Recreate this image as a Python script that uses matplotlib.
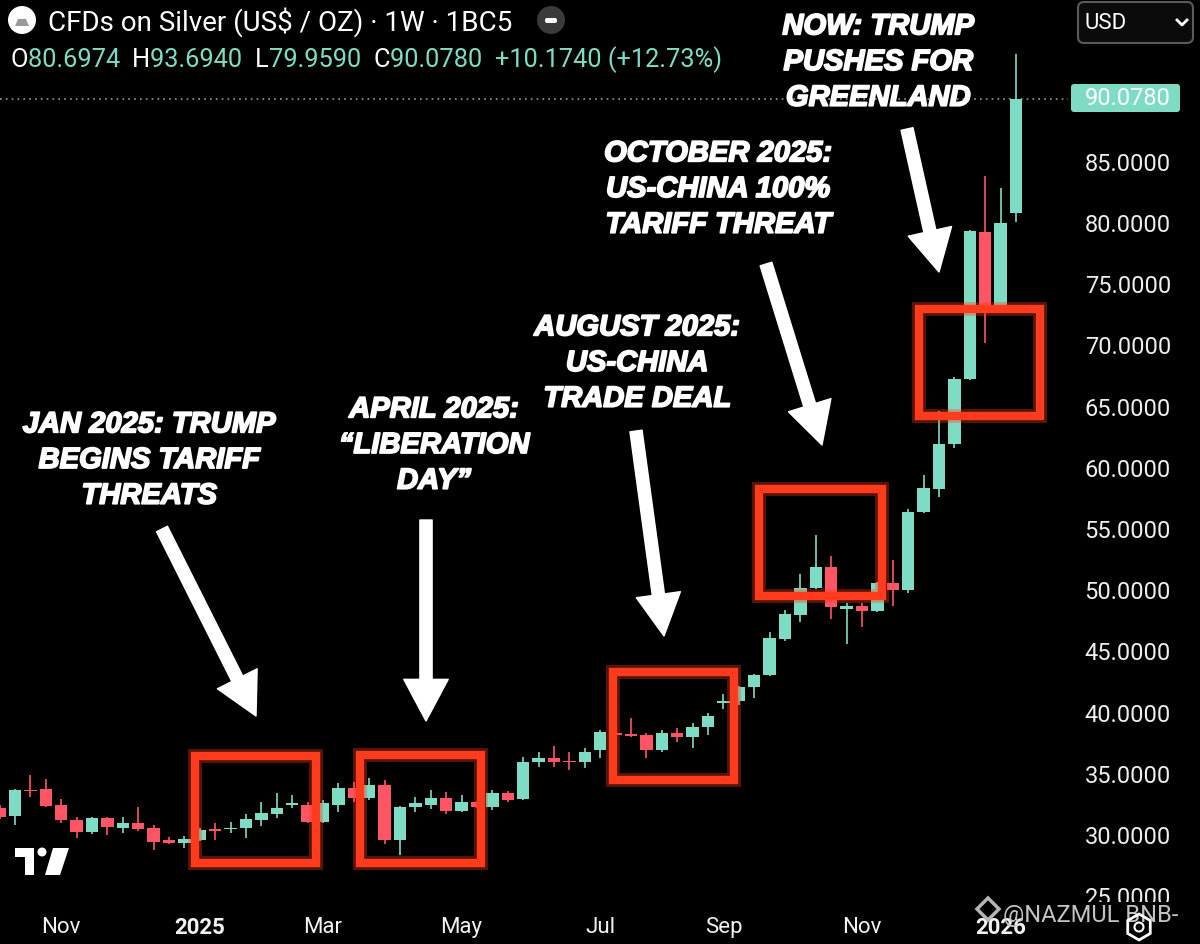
import matplotlib
matplotlib.use("Agg")
import matplotlib.pyplot as plt
import matplotlib.dates as mdates
from matplotlib import patches, patheffects
from matplotlib.lines import Line2D
import pandas as pd

# weekly candles, CFDs on silver (US$ / oz)
dates = pd.date_range("2024-10-07", "2026-01-12", freq="W-MON")
opens = [32.11, 31.46, 33.59, 33.67, 32.36, 31.13, 30.15, 31.30, 30.48, 30.89,
         30.48, 29.50, 29.25, 29.50, 30.31, 30.40, 30.48, 31.13, 31.62, 32.36,
         32.36, 30.97, 32.36, 33.75, 32.93, 34.00, 29.50, 32.20, 32.36, 32.93,
         31.87, 32.60, 32.20, 33.34, 32.85, 35.87, 36.20, 35.95, 35.87, 36.86,
         38.20, 38.16, 38.08, 36.86, 38.25, 37.90, 38.74, 40.70, 40.86, 42.00,
         43.00, 45.93, 47.89, 50.10, 51.82, 48.40, 48.63, 48.22, 50.51, 49.94,
         56.32, 58.20, 61.88, 67.19, 79.21, 73.24, 80.6974]
highs = [32.40, 33.65, 34.81, 34.48, 32.85, 31.38, 31.40, 31.38, 31.38, 32.20,
         30.72, 29.74, 29.82, 30.48, 30.89, 30.97, 31.62, 32.60, 33.34, 33.18,
         32.60, 32.77, 34.16, 34.24, 34.57, 34.40, 32.30, 33.01, 33.59, 33.42,
         33.18, 32.70, 33.59, 33.50, 36.28, 36.70, 37.20, 36.70, 37.00, 38.50,
         38.40, 39.50, 38.25, 38.50, 38.65, 39.06, 39.88, 41.43, 42.10, 43.10,
         46.50, 48.30, 51.25, 54.44, 52.72, 48.90, 48.88, 50.60, 52.39, 56.56,
         59.34, 64.57, 67.35, 79.30, 83.71, 82.73, 93.694]
lows = [31.20, 30.72, 33.01, 32.20, 30.89, 29.66, 30.00, 29.91, 30.07, 30.23,
        28.68, 29.20, 28.84, 29.45, 29.50, 30.07, 29.66, 30.64, 31.30, 32.11,
        30.89, 30.89, 31.79, 32.60, 32.77, 29.17, 28.27, 31.79, 32.03, 31.62,
        31.80, 32.10, 31.95, 32.60, 32.80, 35.47, 35.47, 35.20, 35.40, 36.20,
        37.90, 37.90, 36.20, 36.70, 37.50, 37.00, 38.08, 40.20, 40.50, 41.10,
        42.90, 45.80, 47.32, 50.00, 47.57, 45.52, 46.90, 48.10, 48.63, 49.70,
        56.20, 57.54, 61.55, 67.10, 70.13, 73.20, 79.959]
closes = [31.38, 33.59, 33.50, 32.28, 31.13, 30.15, 31.30, 30.56, 30.89, 30.40,
          29.33, 29.25, 29.58, 30.31, 30.25, 30.48, 31.21, 31.70, 32.11, 32.52,
          30.97, 32.52, 33.75, 32.93, 34.00, 29.50, 32.20, 32.52, 32.93, 31.87,
          32.60, 32.20, 33.34, 32.77, 35.87, 36.20, 35.87, 35.87, 36.70, 38.33,
          38.10, 38.00, 36.86, 38.25, 37.90, 38.74, 39.64, 40.86, 42.00, 43.00,
          46.00, 47.98, 50.10, 51.82, 48.55, 48.63, 48.22, 50.51, 49.94, 56.32,
          58.28, 61.88, 67.19, 79.29, 73.24, 79.904, 90.078]

month_ticks = ["2024-11-04", "2025-01-06", "2025-03-03", "2025-05-05",
               "2025-07-07", "2025-09-01", "2025-11-03", "2026-01-05"]
month_labels = ["Nov", "2025", "Mar", "May", "Jul", "Sep", "Nov", "2026"]
price_ticks = [25, 30, 35, 40, 45, 50, 55, 60, 65, 70, 75, 80, 85]

# highlighted weeks: (start, end, low, high)
boxes = [("2025-01-04", "2025-02-28", 27.62, 36.36),
         ("2025-03-20", "2025-05-14", 27.62, 36.45),
         ("2025-07-13", "2025-09-06", 34.40, 43.23),
         ("2025-09-17", "2025-11-12", 49.44, 58.18),
         ("2025-11-29", "2026-01-23", 64.14, 72.88)]

captions = ["JAN 2025: TRUMP\nBEGINS TARIFF\nTHREATS",
            "APRIL 2025:\n\u201cLIBERATION\nDAY\u201d",
            "AUGUST 2025:\nUS-CHINA\nTRADE DEAL",
            "OCTOBER 2025:\nUS-CHINA 100%\nTARIFF THREAT",
            "NOW: TRUMP\nPUSHES FOR\nGREENLAND"]

GREEN = "#7fdcc4"
RED = "#ff5565"
BOX = "#ff3b1e"
W, H = 1200, 945

plt.rcParams["font.family"] = ["Roboto", "DejaVu Sans"]

fig = plt.figure(figsize=(W / 100, H / 100), dpi=100, facecolor="black")
ax = fig.add_axes([0, 42 / H, 1068 / W, 903 / H])
ax.set_facecolor("black")
for s in ax.spines.values():
    s.set_visible(False)

x = mdates.date2num(dates)
cols = [GREEN if c >= o else RED for o, c in zip(opens, closes)]
bottoms = [min(o, c) for o, c in zip(opens, closes)]
heights = [max(abs(c - o), 0.12) for o, c in zip(opens, closes)]
ax.vlines(x, lows, highs, colors=cols, lw=1.2, zorder=2)
ax.bar(x, heights, bottom=bottoms, width=5.6, color=cols, zorder=3)

ax.axhline(closes[-1], color="#9a9a9a", lw=1.2, ls=(0, (1, 2.5)), zorder=1)

for start, end, lo, hi in boxes:
    x0 = mdates.date2num(pd.Timestamp(start))
    x1 = mdates.date2num(pd.Timestamp(end))
    ax.add_patch(patches.Rectangle((x0, lo), x1 - x0, hi - lo, fill=False,
                                   ec=BOX, lw=10, alpha=0.35, zorder=4))
    ax.add_patch(patches.Rectangle((x0, lo), x1 - x0, hi - lo, fill=False,
                                   ec=BOX, lw=6, joinstyle="miter", zorder=5))

last = mdates.date2num(dates[-1])
ax.set_xlim(last - 1016 / 2.2, last + 52 / 2.2)
ax.set_ylim(24.44, 98.21)

ax.yaxis.tick_right()
ax.set_yticks(price_ticks)
ax.set_yticklabels([f"{v:.4f}" for v in price_ticks])
ax.tick_params(axis="y", length=0, pad=12, labelsize=17, labelcolor="#eeeeee")
ax.set_xticks(mdates.date2num(pd.to_datetime(month_ticks)))
ax.set_xticklabels(month_labels)
ax.tick_params(axis="x", length=0, pad=10, labelsize=16, labelcolor="#f2f2f2")
for lab in ax.get_xticklabels():
    if lab.get_text().isdigit():
        lab.set_fontweight("bold")


def inch(px, py):
    return px / 100, (H - py) / 100


tr = fig.dpi_scale_trans

# hide the lower half of the bottom price label under the time scale
fig.add_artist(patches.Rectangle(inch(1068, 945), 1.32, 0.42, transform=tr,
                                 fc="black", ec="none", zorder=1))

# captions and arrows
cap_pos = [(149, 461), (434, 446), (637, 364), (718, 190), (878, 63)]
arrows = [((162, 530), (256, 717)), ((426, 521), (426, 722)),
          ((636, 432), (664, 637)), ((766, 265), (822, 446)),
          ((907, 130), (939, 273))]
for txt, (cx, cy) in zip(captions, cap_pos):
    fig.text(*inch(cx, cy), txt, transform=tr, ha="center", va="center",
             fontsize=21, fontweight="bold", fontstyle="italic",
             family="Liberation Sans", color="white", linespacing=1.35,
             path_effects=[patheffects.withStroke(linewidth=1.3, foreground="white")],
             zorder=6)
for (tx, ty), (hx, hy) in arrows:
    ax.annotate("", xy=(hx, H - hy), xycoords="figure pixels",
                xytext=(tx, H - ty), textcoords="figure pixels",
                arrowprops=dict(arrowstyle="simple,head_length=0.75,head_width=0.8,tail_width=0.22",
                                mutation_scale=40, color="white", shrinkA=0, shrinkB=0),
                annotation_clip=False, zorder=6)

# header
fig.add_artist(patches.Circle(inch(22, 21), 0.14, transform=tr, fc="white", ec="none", zorder=3))
fig.add_artist(patches.Polygon([inch(15, 27), inch(29, 27), inch(26, 20), inch(18, 20)],
                               transform=tr, fc="#9a9a9a", ec="none", zorder=4))
fig.text(*inch(48, 22), "CFDs on Silver (US$ / OZ) \u00b7 1W \u00b7 1BC5", transform=tr,
         va="center", fontsize=20, color="white")
fig.add_artist(patches.Circle(inch(551, 21), 0.14, transform=tr, fc="#3a3a3a", ec="none", zorder=3))
fig.add_artist(patches.FancyBboxPatch(inch(545, 24), 0.12, 0.05, transform=tr,
                                      boxstyle="round,pad=0,rounding_size=0.02",
                                      fc="white", ec="none", zorder=4))

chg = closes[-1] - closes[-2]
parts = [("O", "white"), (f"{opens[-1]:.4f}  ", GREEN), ("H", "white"),
         (f"{highs[-1]:.4f}  ", GREEN), ("L", "white"), (f"{lows[-1]:.4f}  ", GREEN),
         ("C", "white"), (f"{closes[-1]:.4f}  ", GREEN),
         (f"{chg:+.4f} ({chg / closes[-2] * 100:+.2f}%)", GREEN)]
renderer = fig.canvas.get_renderer()
xpos = 10
for s, c in parts:
    t = fig.text(*inch(xpos, 60), s, transform=tr, va="center", fontsize=18.3, color=c)
    xpos = t.get_window_extent(renderer).x1

# USD selector
fig.add_artist(patches.FancyBboxPatch(inch(1078, 44), 1.15, 0.41, transform=tr,
                                      boxstyle="round,pad=0,rounding_size=0.06",
                                      fc="#0b0b0b", ec="#5a5a5a", lw=1.5, zorder=2))
fig.text(*inch(1085, 24), "USD", transform=tr, va="center", fontsize=16, color="white")
fig.add_artist(Line2D([1177 / 100, 1182 / 100, 1187 / 100],
                      [(H - 21) / 100, (H - 26) / 100, (H - 21) / 100],
                      transform=tr, color="white", lw=2, zorder=3))

# last price tag
fig.add_artist(patches.FancyBboxPatch(inch(1071, 113), 1.09, 0.28, transform=tr,
                                      boxstyle="round,pad=0,rounding_size=0.03",
                                      fc=GREEN, ec="none", zorder=2))
fig.text(*inch(1085, 99), f"{closes[-1]:.4f}", transform=tr, va="center",
         fontsize=17, color="white", zorder=3)

# TradingView logo
fig.add_artist(patches.Polygon([inch(15, 849), inch(34, 849), inch(34, 876), inch(25, 876),
                                inch(25, 858), inch(15, 858)], transform=tr,
                               fc="white", ec="none", zorder=3))
fig.add_artist(patches.Circle(inch(42, 853), 0.045, transform=tr, fc="white", ec="none", zorder=3))
fig.add_artist(patches.Polygon([inch(53, 849), inch(69, 849), inch(60, 876), inch(45, 876)],
                               transform=tr, fc="white", ec="none", zorder=3))

# watermark + settings icon
fig.add_artist(patches.RegularPolygon(inch(988, 910), 4, radius=0.11, transform=tr,
                                      fc="none", ec="#b5b5b5", lw=2.5, zorder=3))
fig.text(*inch(1003, 916), "@NAZMUL BNB-", transform=tr, va="center", fontsize=17,
         color="#c4c4c4", zorder=3)
fig.add_artist(patches.RegularPolygon(inch(1139, 928), 6, radius=0.13, transform=tr,
                                      fc="none", ec="white", lw=2, zorder=4))
fig.add_artist(patches.Circle(inch(1139, 928), 0.045, transform=tr, fc="none",
                              ec="white", lw=1.5, zorder=4))

fig.savefig("out.png", dpi=100, facecolor="black")
